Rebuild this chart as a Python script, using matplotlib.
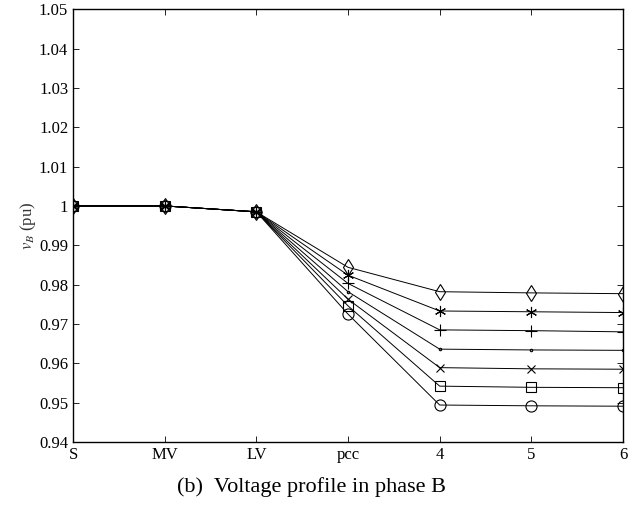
import numpy as np
import matplotlib.pyplot as plt

plt.rcParams['font.family'] = 'Liberation Serif'
plt.rcParams['mathtext.fontset'] = 'stix'

buses = ['S', 'MV', 'LV', 'pcc', '4', '5', '6']

# voltage in phase B per case (top to bottom)
v_diamond = [1.0, 1.0, 0.9985, 0.9844, 0.9782, 0.9779, 0.9777]
v_star = [1.0, 1.0, 0.9985, 0.9824, 0.9733, 0.9731, 0.9729]
v_plus = [1.0, 1.0, 0.9985, 0.9803, 0.9685, 0.9683, 0.9680]
v_dot = [1.0, 1.0, 0.9985, 0.9782, 0.9636, 0.9634, 0.9633]
v_x = [1.0, 1.0, 0.9985, 0.9763, 0.9589, 0.9586, 0.9585]
v_square = [1.0, 1.0, 0.9985, 0.9746, 0.9542, 0.9539, 0.9538]
v_circle = [1.0, 1.0, 0.9985, 0.9725, 0.9494, 0.9492, 0.9491]

# asterisk like matlab '*'
series = [(v_diamond, 'd', 8.5), (v_star, (6, 2, 0), 8), (v_plus, '+', 8),
          (v_dot, '.', 3.5), (v_x, 'x', 6), (v_square, 's', 6.5), (v_circle, 'o', 8)]

fig = plt.figure(figsize=(6.44, 5.08), dpi=100)
ax = fig.add_axes([0.1134, 0.1299, 0.854, 0.852])

x = np.arange(len(buses))
for vals, m, ms in series:
    ax.plot(x, vals, color='black', lw=0.7, marker=m, markersize=ms,
            markerfacecolor='none', markeredgecolor='black', markeredgewidth=0.8)

ax.set_xlim(0, 6)
ax.set_ylim(0.94, 1.05)
ax.set_xticks(x)
ax.set_xticklabels(buses)
yt = np.round(np.arange(0.94, 1.0501, 0.01), 2)
ax.set_yticks(yt)
ax.set_yticklabels(['%g' % v for v in yt])
ax.tick_params(direction='in', top=True, right=True, labelsize=12, length=4, width=0.6)
for s in ax.spines.values():
    s.set_linewidth(1.0)
ax.set_ylabel('$v_B$ (pu)', fontsize=12, color='#333333', labelpad=1)

fig.text(0.484, 0.041, '(b)  Voltage profile in phase B', ha='center', va='center', fontsize=16)

fig.savefig('out.png', dpi=100)
